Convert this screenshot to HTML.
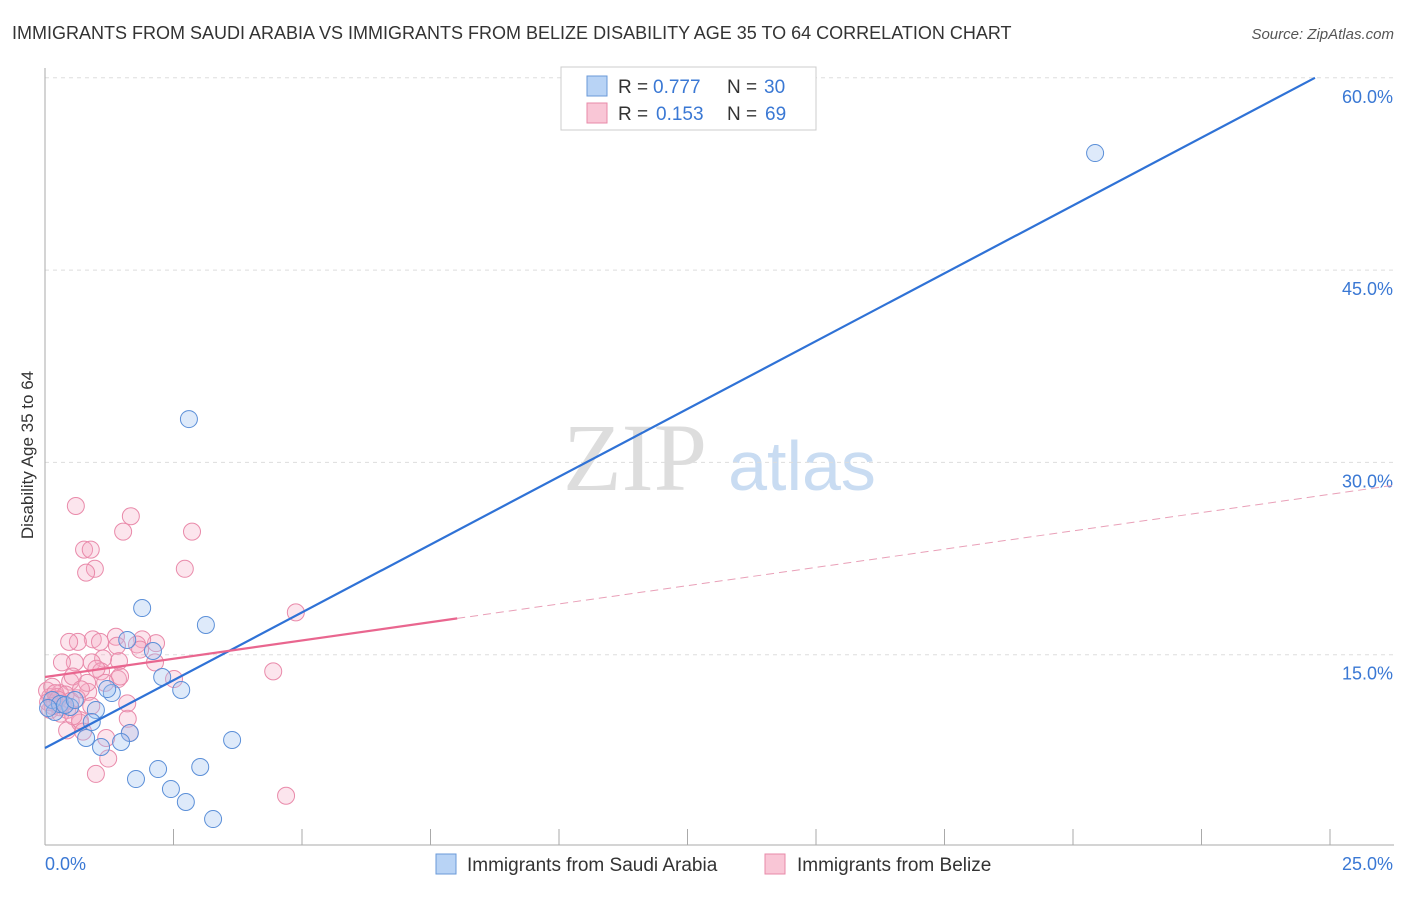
<!DOCTYPE html>
<html><head><meta charset="utf-8"><style>
body{margin:0;background:#fff;font-family:"Liberation Sans",sans-serif;}
</style></head><body>
<svg id="chart" width="1406" height="892" xmlns="http://www.w3.org/2000/svg" font-family="Liberation Sans, sans-serif">
<text x="12" y="39" font-size="18" fill="#333">IMMIGRANTS FROM SAUDI ARABIA VS IMMIGRANTS FROM BELIZE DISABILITY AGE 35 TO 64 CORRELATION CHART</text>
<text x="1394" y="39" font-size="15" fill="#555" text-anchor="end" font-style="italic">Source: ZipAtlas.com</text>
<text transform="translate(33,455) rotate(-90)" font-size="17" fill="#333" text-anchor="middle">Disability Age 35 to 64</text>
<g>
<text x="635" y="490" font-size="96" fill="#ddd" text-anchor="middle" font-family="Liberation Serif, serif">ZIP</text>
<text x="802" y="490" font-size="70" fill="#c9dcf2" text-anchor="middle">atlas</text>
</g>
<g id="grid"></g><g id="axes"></g><g id="marks"></g>
<g>
<rect x="561" y="67" width="255" height="63" fill="#fff" stroke="#ccc"/>
<rect x="587" y="76" width="20" height="20" fill="#b8d3f5" stroke="#6a9ad8"/>
<text x="618" y="93" font-size="19" fill="#333">R =</text>
<text x="653" y="93" font-size="19" fill="#3a78d4">0.777</text>
<text x="727" y="93" font-size="19" fill="#333">N =</text>
<text x="764" y="93" font-size="19" fill="#3a78d4">30</text>
<rect x="587" y="103" width="20" height="20" fill="#f9c6d6" stroke="#e88aa8"/>
<text x="618" y="120" font-size="19" fill="#333">R =</text>
<text x="656" y="120" font-size="19" fill="#3a78d4">0.153</text>
<text x="727" y="120" font-size="19" fill="#333">N =</text>
<text x="765" y="120" font-size="19" fill="#3a78d4">69</text>
</g>
<g>
<rect x="436" y="854" width="20" height="20" fill="#b8d3f5" stroke="#6a9ad8"/>
<text x="467" y="871" font-size="19" fill="#333">Immigrants from Saudi Arabia</text>
<rect x="765" y="854" width="20" height="20" fill="#f9c6d6" stroke="#e88aa8"/>
<text x="797" y="871" font-size="19" fill="#333">Immigrants from Belize</text>
</g>
</svg>
<script>
const xTicks=[0,2.5,5,7.5,10,12.5,15,17.5,20,22.5,25];
const yTicks=[15,30,45,60];
const yTickLabels=["15.0%","30.0%","45.0%","60.0%"];
const saudiX=[20.43,2.80,1.89,3.13,1.60,2.10,2.28,2.65,1.30,1.21,0.99,0.19,0.49,0.14,0.29,0.91,1.65,0.80,1.48,1.09,3.64,3.02,2.20,1.77,2.45,2.74,3.27,0.39,0.06,0.58];
const saudiY=[54.13,33.38,18.64,17.32,16.15,15.29,13.26,12.25,12.01,12.32,10.69,10.53,10.92,11.47,11.15,9.75,8.89,8.50,8.19,7.80,8.35,6.24,6.08,5.30,4.52,3.51,2.18,11.08,10.84,11.47];
const belizeX=[0.60,1.67,1.52,2.86,0.76,0.89,0.97,0.80,2.72,4.88,4.44,4.69,0.99,1.23,1.19,0.43,0.68,1.61,1.60,1.42,2.51,2.14,2.16,1.89,1.38,0.93,0.64,0.47,1.07,1.40,1.79,1.44,1.13,0.91,0.58,0.33,1.09,1.46,1.17,0.49,0.84,0.29,0.10,0.19,0.04,0.10,0.35,0.62,0.68,1.65,0.82,0.54,1.85,0.29,0.14,0.23,0.43,0.06,0.74,0.2,0.4,0.5,0.3,0.15,0.7,0.9,1.0,0.25,0.55];
const belizeY=[26.6,25.8,24.6,24.6,23.2,23.2,21.7,21.4,21.7,18.3,13.7,4.0,5.7,6.9,8.5,9.1,9.7,10.0,11.2,13.1,13.1,14.4,15.9,16.2,16.4,16.2,16.0,16.0,16.0,15.7,15.8,14.5,14.7,14.4,14.4,14.4,13.7,13.3,12.8,12.9,12.1,12.0,11.7,11.2,12.2,10.7,11.2,11.6,9.9,8.9,12.8,13.3,15.4,10.9,12.5,11.7,10.7,11.3,9.0,12.0,11.9,11.4,10.4,11.0,12.3,11.0,13.9,11.5,10.2];
const saudiFit=[7.72,2.116];
const belizeFit=[13.26,0.57];
const belizeSolidEnd=8.02;

const X=v=>45+v/2.5*128.5;
const Y=v=>847-v/15*192.3;
const NS="http://www.w3.org/2000/svg";
function mk(tag,attrs,parent){const e=document.createElementNS(NS,tag);for(const k in attrs)e.setAttribute(k,attrs[k]);parent.appendChild(e);return e;}
const grid=document.getElementById('grid'),axes=document.getElementById('axes'),marks=document.getElementById('marks');
yTicks.forEach((t,i)=>{
 const l=mk('line',{x1:45,x2:1394,y1:Y(t),y2:Y(t),stroke:'#ddd','stroke-dasharray':'4,4'},grid);
 
 
 const tx=mk('text',{x:1393,y:Y(t)+25,'font-size':18,fill:'#3a78d4','text-anchor':'end'},axes);
 tx.textContent=yTickLabels[i];
 
 
});
const ax=mk('line',{x1:45,x2:45,y1:68,y2:845,stroke:'#aaa'},axes);


const bx=mk('line',{x1:45,x2:1394,y1:845,y2:845,stroke:'#aaa'},axes);


xTicks.forEach(t=>{
 const l=mk('line',{x1:X(t),x2:X(t),y1:829,y2:845,stroke:'#aaa'},axes);
 
 
});
const xl0=mk('text',{x:45,y:870,'font-size':18,fill:'#3a78d4'},axes);xl0.textContent='0.0%';


const xl1=mk('text',{x:1393,y:870,'font-size':18,fill:'#3a78d4','text-anchor':'end'},axes);xl1.textContent='25.0%';



belizeX.forEach((x,i)=>{
 const c=mk('circle',{cx:X(x),cy:Y(belizeY[i]),r:8.5,fill:'rgba(246,170,196,0.3)',stroke:'#e98aaa','stroke-width':1},marks);
 
 
});
saudiX.forEach((x,i)=>{
 const c=mk('circle',{cx:X(x),cy:Y(saudiY[i]),r:8.5,fill:'rgba(160,196,240,0.35)',stroke:'#5b8fd8','stroke-width':1},marks);
 
 
});
const xEnd=(60-saudiFit[0])/saudiFit[1];
const sl=mk('line',{x1:X(0),y1:Y(saudiFit[0]),x2:X(xEnd),y2:Y(saudiFit[0]+saudiFit[1]*xEnd),stroke:'#2f72d6','stroke-width':2.2},marks);


const bl=mk('line',{x1:X(0),y1:Y(belizeFit[0]),x2:X(belizeSolidEnd),y2:Y(belizeFit[0]+belizeFit[1]*belizeSolidEnd),stroke:'#e9668f','stroke-width':2.2},marks);


const bd=mk('line',{x1:X(belizeSolidEnd),y1:Y(belizeFit[0]+belizeFit[1]*belizeSolidEnd),x2:X(26.3),y2:Y(belizeFit[0]+belizeFit[1]*26.3),stroke:'#e9a0b8','stroke-width':1,'stroke-dasharray':'8,5'},marks);


</script>
</body></html>
